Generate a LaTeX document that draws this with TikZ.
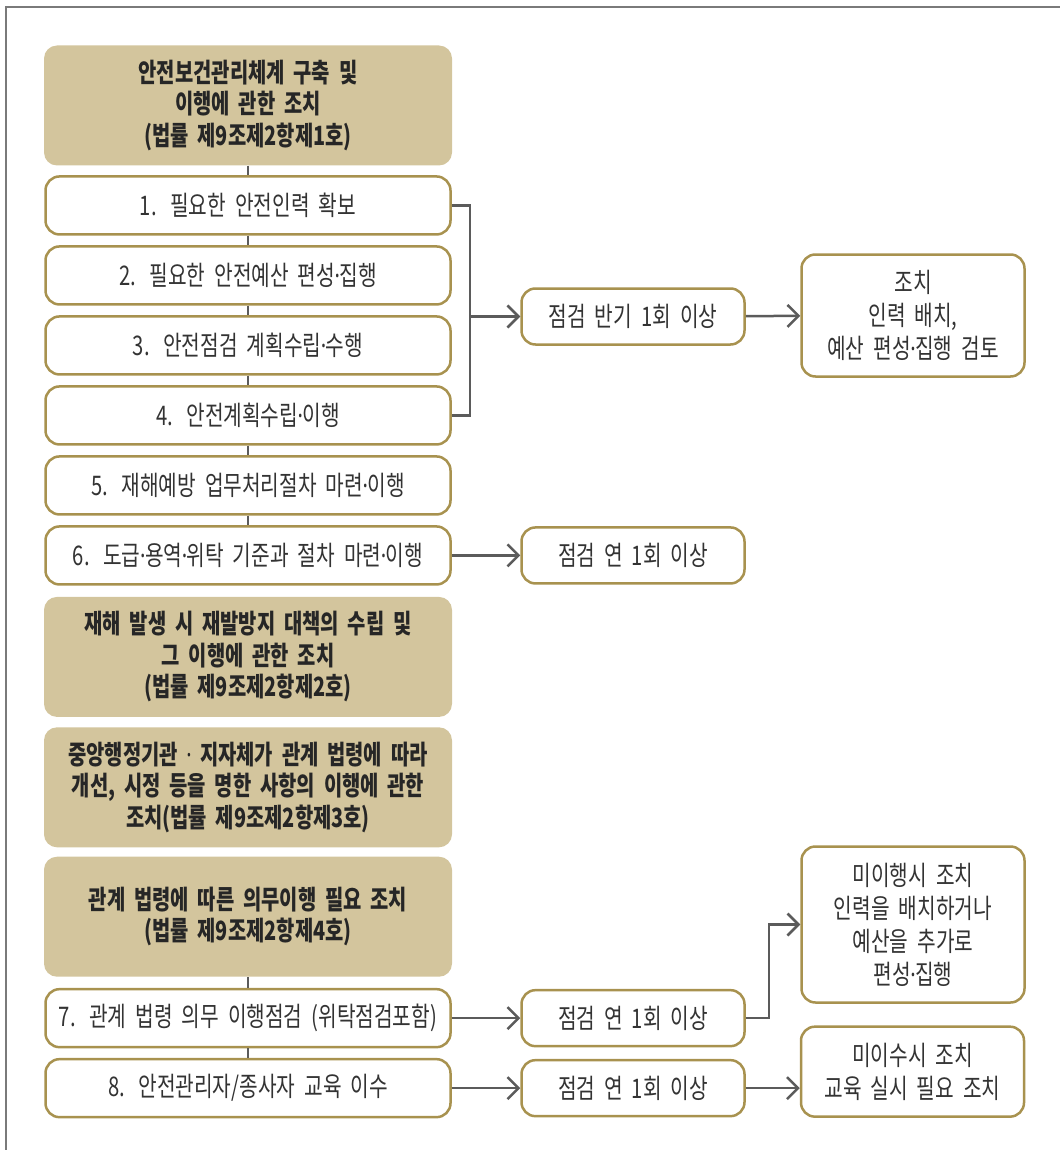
\documentclass[tikz,border=0pt]{standalone}
\usepackage{fontspec}
\setmainfont{Noto Sans CJK KR}[FakeStretch=0.75]
\newfontfamily\dotfont{Noto Sans}[FakeStretch=0.75]
\newcommand{\mdot}{{\dotfont\kern-0.5pt·\kern-0.5pt}}
\newcommand{\tightspace}{\spaceskip=3pt\relax}
\usepackage{tikz}
\usetikzlibrary{positioning, arrows.meta}
\definecolor{headfill}{HTML}{D3C59D}
\definecolor{goldline}{HTML}{A8924F}
\definecolor{linkgray}{HTML}{5B5B5B}
\definecolor{textgray}{HTML}{333333}

\begin{document}
\begin{tikzpicture}[x=1pt, y=-1pt]
    % Define styles for blocks and arrows
    \tikzstyle{headblock} = [rectangle, fill=headfill, rounded corners=13pt, text centered, text width=398pt, minimum width=408pt, minimum height=120pt, text=black!85, font=\fontsize{26.5}{31.5}\selectfont\bfseries\tightspace]
    \tikzstyle{itemblock} = [rectangle, draw=goldline, line width=2.5pt, fill=white, rounded corners=14pt, text centered, text width=395pt, minimum width=405pt, minimum height=58pt, text=textgray, font=\fontsize{27}{33}\selectfont\tightspace]
    \tikzstyle{checkblock} = [itemblock, text width=213pt, minimum width=223pt, minimum height=56pt]
    \tikzstyle{actblock} = [itemblock, text width=213pt, minimum width=223pt]
    \tikzstyle{link} = [draw=linkgray, line width=2.5pt]
    \tikzstyle{arrow} = [link, -{Straight Barb[length=11pt, width=22pt]}]
    \tikzstyle{frame} = [draw=black!52, line width=1.5pt]

    \useasboundingbox (0,0) rectangle (1060,1150);
    \draw [frame] (6,1150) |- (1060,7);

    % Nodes
    \node (hd1) [headblock] at (248,105.5) {안전보건관리체계 구축 및\\이행에 관한 조치\\(법률 제9조제2항제1호)};
    \node (it1) [itemblock, below=9.5pt of hd1] {1. 필요한 안전인력 확보};
    \node (it2) [itemblock, below=9.5pt of it1] {2. 필요한 안전예산 편성\mdot 집행};
    \node (it3) [itemblock, below=9.5pt of it2] {3. 안전점검 계획수립\mdot 수행};
    \node (it4) [itemblock, below=9.5pt of it3] {4. 안전계획수립\mdot 이행};
    \node (it5) [itemblock, below=9.5pt of it4] {5. 재해예방 업무처리절차 마련\mdot 이행};
    \node (it6) [itemblock, below=9.5pt of it5] {6. 도급\mdot 용역\mdot 위탁 기준과 절차 마련\mdot 이행};
    \node (hd2) [headblock, below=11pt of it6] {재해 발생 시 재발방지 대책의 수립 및\\그 이행에 관한 조치\\(법률 제9조제2항제2호)};
    \node (hd3) [headblock, below=10pt of hd2] {중앙행정기관 \mdot{} 지자체가 관계 법령에 따라\\개선, 시정 등을 명한 사항의 이행에 관한\\조치(법률 제9조제2항제3호)};
    \node (hd4) [headblock, below=9pt of hd3] {관계 법령에 따른 의무이행 필요 조치\\(법률 제9조제2항제4호)};
    \node (it7) [itemblock, below=11pt of hd4] {7. 관계 법령 의무 이행점검 (위탁점검포함)};
    \node (it8) [itemblock, below=9.5pt of it7] {8. 안전관리자/종사자 교육 이수};

    \node (chk1) [checkblock] at (633,316.5) {점검 반기 1회 이상};
    \node (act1) [actblock, minimum height=122pt] at (913,315.5) {조치\\인력 배치,\\예산 편성\mdot 집행 검토};
    \node (chk2) [checkblock, right=68.5pt of it6] {점검 연 1회 이상};
    \node (chk3) [checkblock, right=68.5pt of it7] {점검 연 1회 이상};
    \node (act2) [actblock, minimum height=156pt] at (913,924.5) {미이행시 조치\\인력을 배치하거나\\예산을 추가로\\편성\mdot 집행};
    \node (chk4) [checkblock, right=68.5pt of it8] {점검 연 1회 이상};
    \node (act3) [actblock, minimum height=90pt, right=54pt of chk4, yshift=16.5pt] {미이수시 조치\\교육 실시 필요 조치};

    % Arrows
    \draw [link] (hd1) -- (it1);
    \draw [link] (it1) -- (it2);
    \draw [link] (it2) -- (it3);
    \draw [link] (it3) -- (it4);
    \draw [link] (it4) -- (it5);
    \draw [link] (it5) -- (it6);
    \draw [link] (hd4) -- (it7);
    \draw [link] (it7) -- (it8);

    \path (it1.east) ++(18pt,0) coordinate (brkx);
    \coordinate (brk) at (brkx |- chk1);
    \draw [link] (it1.east) -| (brk) |- (it4.east);
    \draw [arrow] (brk) -- (chk1);
    \draw [arrow] (chk1) -- (act1);
    \draw [arrow] (it6) -- (chk2);
    \draw [arrow] (it7) -- (chk3);
    \draw [arrow] (chk3.east) -- ++(23pt,0) |- (act2.west);
    \draw [arrow] (it8) -- (chk4);
    \draw [arrow] (chk4) -- (chk4 -| act3.west);

\end{tikzpicture}
\end{document}
